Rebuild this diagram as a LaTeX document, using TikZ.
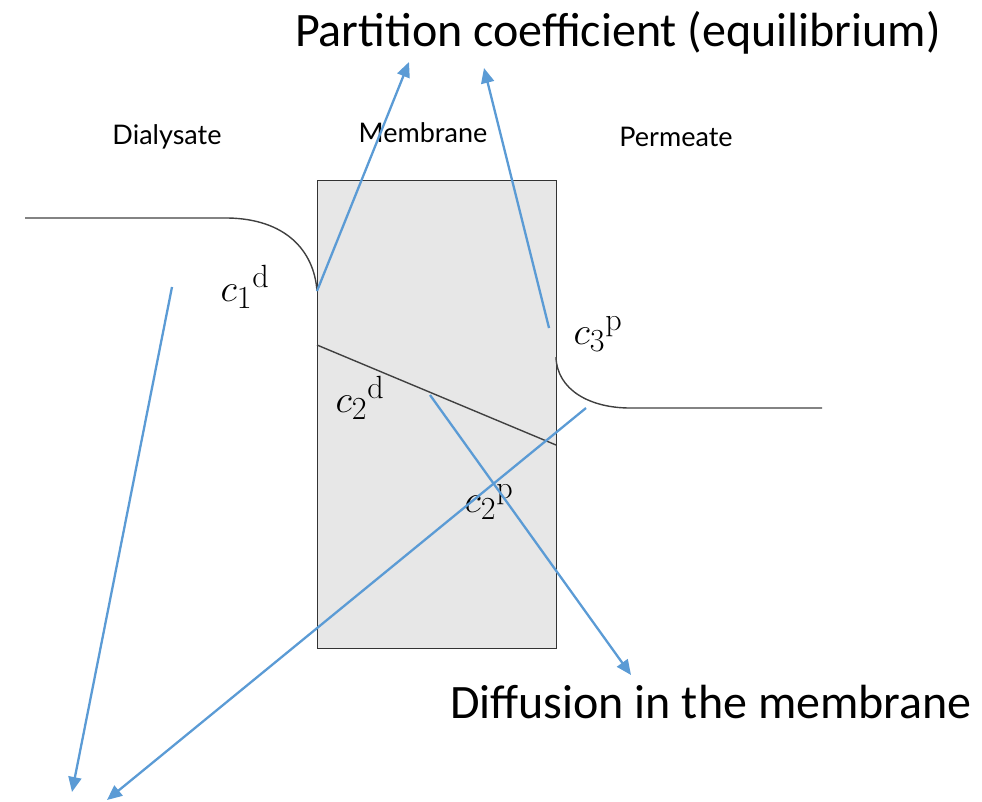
\documentclass[tikz,border=0pt]{standalone}
\usepackage[no-math]{fontspec}
\usepackage{graphicx}
\setmainfont{Carlito}
\newfontfamily\gillfont{Lato}
\usetikzlibrary{arrows.meta}
\definecolor{arrowblue}{RGB}{91,155,213}
\definecolor{boxgray}{RGB}{231,231,231}
\newcommand{\conc}[1]{\scalebox{1.55}{$#1$}}
\begin{document}
\begin{tikzpicture}[x=1pt,y=-1pt,
  bigtext/.style={font=\fontsize{48}{52}\selectfont, inner sep=0pt},
  regionlabel/.style={font=\gillfont\fontsize{27}{30}\selectfont, inner sep=0pt},
  conclabel/.style={font=\fontsize{24.88}{28}\selectfont, inner sep=0pt},
  profile/.style={draw=black!75, line width=1.4pt},
  pointer/.style={draw=arrowblue, line width=2.3pt, -{Triangle[length=15pt,width=13pt]}}]
\useasboundingbox (0,0) rectangle (982,802);
% membrane
\node[draw=black!80, fill=boxgray, line width=1.3pt, minimum width=239pt, minimum height=468pt, inner sep=0pt, anchor=north west] (mem) at (317,180) {};
% concentration profile
\coordinate (p0) at (25,218);
\coordinate (p1) at (228,218);
\coordinate (p2) at (317,291);
\coordinate (q1) at (317,345);
\coordinate (q2) at (556,445);
\coordinate (r1) at (556,357);
\coordinate (r2) at (630,408);
\coordinate (r3) at (822,408);
\draw[profile] (p0) -- (p1) .. controls (285,219) and (314,250) .. (p2);
\draw[profile] (q1) -- (q2);
\draw[profile] (r1) .. controls (557,390) and (590,408) .. (r2) -- (r3);
% labels
\node[regionlabel] (dia) at (167,137) {Dialysate};
\node[regionlabel] (memlab) at (423,133) {Membrane};
\node[regionlabel] (per) at (676,137) {Permeate};
\node[bigtext] (part) at (618,33) {Partition coefficient (equilibrium)};
\node[bigtext] (diff) at (711,702) {Diffusion in the membrane};
\node[conclabel] (c1d) at (245,287) {\conc{{c_1}^{\mathrm{d}}}};
\node[conclabel] (c2d) at (360,398) {\conc{{c_2}^{\mathrm{d}}}};
\node[conclabel] (c3p) at (598,334) {\conc{{c_3}^{\mathrm{p}}}};
\node[conclabel] (c2p) at (489,502) {\conc{{c_2}^{\mathrm{p}}}};
% pointers
\coordinate (a1s) at (317,291);
\coordinate (a1e) at (409,62);
\coordinate (a2s) at (549,328);
\coordinate (a2e) at (484,68);
\coordinate (a3s) at (172,287);
\coordinate (a3e) at (72,792);
\coordinate (a4s) at (586,408);
\coordinate (a4e) at (107,800);
\coordinate (a5s) at (430,395);
\coordinate (a5e) at (631,675);
\draw[pointer] (a1s) -- (a1e);
\draw[pointer] (a2s) -- (a2e);
\draw[pointer] (a3s) -- (a3e);
\draw[pointer] (a4s) -- (a4e);
\draw[pointer] (a5s) -- (a5e);
\end{tikzpicture}
\end{document}
